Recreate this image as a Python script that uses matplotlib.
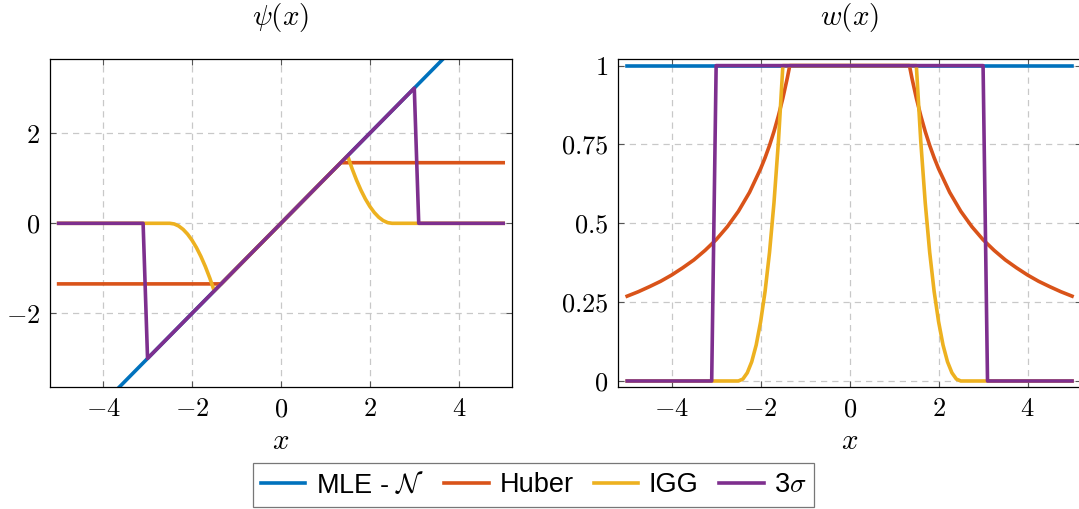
#!/usr/bin/env python
# -*- coding: utf-8 -*-
import matplotlib
matplotlib.use("Agg")
import matplotlib.pyplot as plt
from matplotlib.ticker import FuncFormatter

plt.rcParams['mathtext.fontset'] = 'cm'
plt.rcParams['font.family'] = ['Liberation Sans', 'DejaVu Sans']

labels = ["MLE - $\\mathcal{N}$", "Huber", "IGG", "3$\\sigma$"]
colors = ["#0072BD", "#D95319", "#EDB120", "#7E2F8E"]

# MLE - N
x_mle = [-5, 5]
psi_mle = [-5, 5]
w_mle = [1, 1]

# Huber
x_huber_psi = [-5, -1.345, 1.345, 5]
psi_huber = [-1.345, -1.345, 1.345, 1.345]
x_huber_w = [-5, -4.75, -4.5, -4.25, -4, -3.75, -3.5, -3.25, -3, -2.75, -2.5, -2.25, -2,
             -1.9, -1.8, -1.7, -1.6, -1.5, -1.4, -1.345,
             1.345, 1.4, 1.5, 1.6, 1.7, 1.8, 1.9,
             2, 2.25, 2.5, 2.75, 3, 3.25, 3.5, 3.75, 4, 4.25, 4.5, 4.75, 5]
w_huber = [0.269, 0.283, 0.299, 0.316, 0.336, 0.359, 0.384, 0.414, 0.448, 0.489, 0.538, 0.598, 0.673,
           0.708, 0.747, 0.791, 0.841, 0.897, 0.961, 1.0,
           1.0, 0.961, 0.897, 0.841, 0.791, 0.747, 0.708,
           0.673, 0.598, 0.538, 0.489, 0.448, 0.414, 0.384, 0.359, 0.336, 0.316, 0.299, 0.283, 0.269]

# IGG
x_igg = [-5, -2.5, -2.4, -2.3, -2.2, -2.1, -2.0, -1.9, -1.8, -1.7, -1.6, -1.5,
         1.5, 1.6, 1.7, 1.8, 1.9, 2.0, 2.1, 2.2, 2.3, 2.4, 2.5, 5]
psi_igg = [0, 0, -0.015, -0.06, -0.135, -0.24, -0.375, -0.54, -0.735, -0.96, -1.215, -1.5,
           1.5, 1.215, 0.96, 0.735, 0.54, 0.375, 0.24, 0.135, 0.06, 0.015, 0, 0]
w_igg = [0, 0, 0.006, 0.026, 0.061, 0.114, 0.188, 0.284, 0.408, 0.565, 0.759, 1.0,
         1.0, 0.759, 0.565, 0.408, 0.284, 0.188, 0.114, 0.061, 0.026, 0.006, 0, 0]

# 3 sigma
x_3s = [-5, -3.1, -3.0, 3.0, 3.1, 5]
psi_3s = [0, 0, -3.0, 3.0, 0, 0]
w_3s = [0, 0, 1, 1, 0, 0]

xticks = [-4, -2, 0, 2, 4]
psi_ticks = [-2, 0, 2]
w_ticks = [0, 0.25, 0.5, 0.75, 1]


def mathLabel(v, pos):
    return "$%g$" % v


def styleAxis(ax, yticks):
    ax.set_xlim(-5.2, 5.2)
    ax.set_xticks(xticks)
    ax.set_yticks(yticks)
    ax.xaxis.set_major_formatter(FuncFormatter(mathLabel))
    ax.yaxis.set_major_formatter(FuncFormatter(mathLabel))
    ax.tick_params(direction="in", length=4, width=0.8, color="#555555",
                   top=True, right=True, labelsize=19, pad=7)
    ax.grid(True, color="#c8c8c8", linestyle=(0, (5, 4)), linewidth=0.9)
    ax.set_axisbelow(True)
    for s in ax.spines.values():
        s.set_linewidth(0.9)
    ax.set_xlabel("$x$", fontsize=21, labelpad=4)


fig = plt.figure(figsize=(10.79, 5.09), dpi=100)
ax1 = fig.add_axes([0.0461, 0.2391, 0.4285, 0.6444])
ax2 = fig.add_axes([0.5730, 0.2391, 0.4288, 0.6444])

lw = 2.6
ax1.plot(x_mle, psi_mle, color=colors[0], lw=lw, label=labels[0])
ax1.plot(x_huber_psi, psi_huber, color=colors[1], lw=lw, label=labels[1])
ax1.plot(x_igg, psi_igg, color=colors[2], lw=lw, label=labels[2])
ax1.plot(x_3s, psi_3s, color=colors[3], lw=lw, label=labels[3])
styleAxis(ax1, psi_ticks)
ax1.set_ylim(-3.64, 3.64)

ax2.plot(x_mle, w_mle, color=colors[0], lw=lw)
ax2.plot(x_huber_w, w_huber, color=colors[1], lw=lw)
ax2.plot(x_igg, w_igg, color=colors[2], lw=lw)
ax2.plot(x_3s, w_3s, color=colors[3], lw=lw)
styleAxis(ax2, w_ticks)
ax2.set_ylim(-0.02, 1.02)

fig.text(281 / 1079, 1 - 18 / 509, "$\\psi(x)$", fontsize=21, ha="center", va="center")
fig.text(850 / 1079, 1 - 18 / 509, "$w(x)$", fontsize=21, ha="center", va="center")

handles, names = ax1.get_legend_handles_labels()
leg = fig.legend(handles, names, loc="center", bbox_to_anchor=(533.5 / 1079, 1 - 485 / 509),
                 ncol=4, fontsize=19.5, frameon=True, fancybox=False, edgecolor="#555555",
                 handlelength=1.65, handletextpad=0.38, columnspacing=0.75,
                 borderpad=0.3)
leg.get_frame().set_linewidth(0.9)

plt.savefig("out.png", dpi=100)
plt.close()
